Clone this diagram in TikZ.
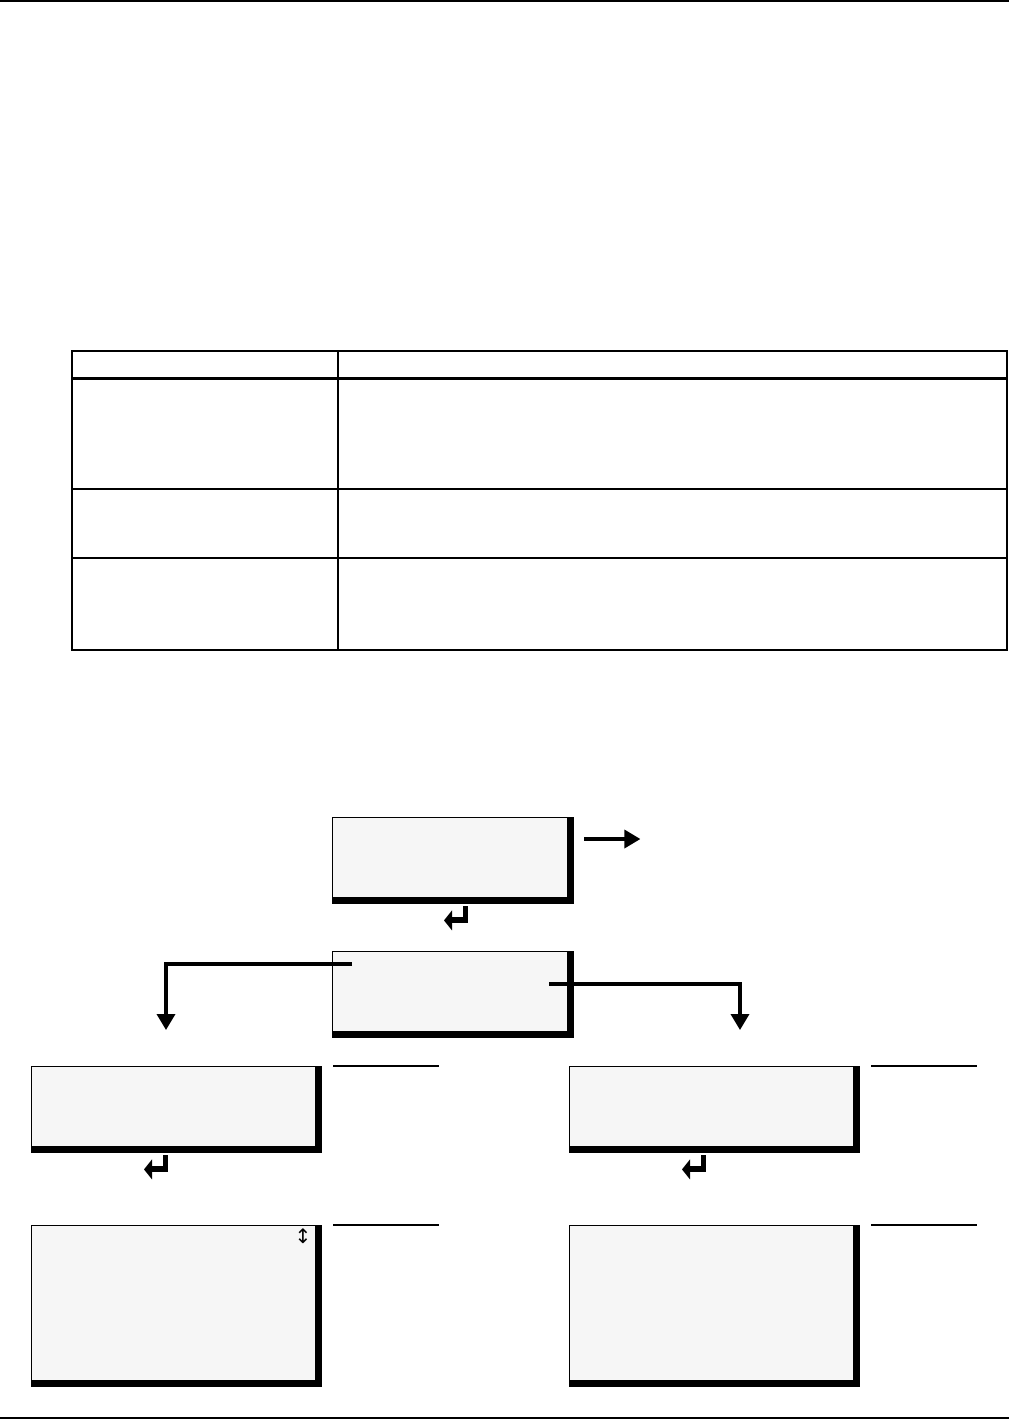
\documentclass[tikz,border=0pt]{standalone}
\usepackage{fontspec}
\usepackage{tikz}
\usetikzlibrary{arrows.meta,calc}
\usepackage{xcolor}
\newfontfamily\symfont{DejaVu Sans}
\definecolor{lcdgray}{HTML}{F6F6F6}

\begin{document}
\begin{tikzpicture}[
  x=0.5pt, y=-0.5pt,
  screen/.style={draw, fill=lcdgray, line width=0.7pt, inner sep=0pt, anchor=north west},
  small/.style={screen, minimum width=117.5pt, minimum height=40pt},
  wide/.style={screen, minimum width=142pt, minimum height=40pt},
  tall/.style={screen, minimum width=142pt, minimum height=77.5pt},
  arr/.style={-{Triangle[length=8pt,width=9pt]}, line width=1.75pt},
  grid/.style={line width=0.65pt},
  retkey/.pic={
    \fill (0,0) rectangle (-5,-17);
    \fill (0,0) rectangle (-16,-6);
    \fill (-16,-13) -- (-24,-3) -- (-16,7) -- cycle;
  },
]
\useasboundingbox (0,0) rectangle (1009,1420);

% page rules
\draw[line width=1pt] (0,1) -- (1009,1);
\draw[line width=0.75pt] (0,1418) -- (1009,1418);

% table
\draw[grid] (72,351) rectangle (1007,650);
\draw[grid] (338,351) -- (338,650);
\draw[line width=1.5pt] (72,378) -- (1007,378);
\foreach \ry in {489,558}
  \draw[grid] (72,\ry) -- (1007,\ry);

% display screens
\node[small] (scr1) at (332,817) {};
\node[small] (scr2) at (332,951) {};
\node[wide] (scr3) at (31,1066) {};
\node[wide] (scr4) at (569,1066) {};
\node[tall] (scr5) at (31,1225) {};
\node[tall] (scr6) at (569,1225) {};

% heavy right and bottom edges
\foreach \s in {scr1,scr2,scr3,scr4,scr5,scr6} {
  \fill (\s.north east) rectangle ($(\s.south east)+(6,6)$);
  \fill (\s.south west) rectangle ($(\s.south east)+(6,6)$);
}

% side rules
\foreach \s in {scr3,scr4,scr5,scr6}
  \draw[line width=0.7pt] ($(\s.north east)+(17,0)$) -- ($(\s.north east)+(123,0)$);

% enter keys
\pic at ($(scr1.south west)+(136,25)$) {retkey};
\pic at ($(scr3.south west)+(137,25)$) {retkey};
\pic at ($(scr4.south west)+(137,25)$) {retkey};

% scroll mark
\node[inner sep=0pt, font=\symfont\fontsize{10}{10}\selectfont] (scroll) at (303,1236) {↕};

% connectors
\coordinate (nxt) at ($(scr1.north east)+(72,22)$);
\coordinate (lft) at (166,1030);
\coordinate (rgt) at (740,1030);
\draw[arr] ($(scr1.north east)+(16,22)$) -- (nxt);
\draw[arr] ($(scr2.north west)+(20,13)$) -| (lft);
\draw[arr] ($(scr2.north east)+(-19,33)$) -| (rgt);
\end{tikzpicture}
\end{document}
